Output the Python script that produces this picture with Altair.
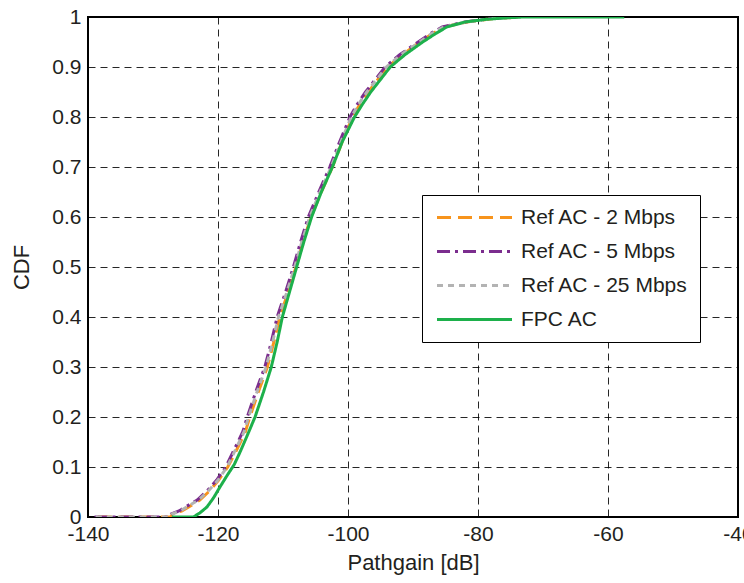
import altair as alt
import pandas as pd

series_names = ["Ref AC - 2 Mbps", "Ref AC - 5 Mbps", "Ref AC - 25 Mbps", "FPC AC"]
series_colors = ["#F7941D", "#7B2D8E", "#B3B3B3", "#1DB04B"]
series_dashes = [[14, 7], [13, 5, 3, 5], [6, 5], [1, 0]]

ref_cdf = [0, 0, 0.006, 0.012, 0.02, 0.034, 0.052, 0.074, 0.1, 0.135, 0.17, 0.2, 0.25,
           0.3, 0.35, 0.4, 0.45, 0.5, 0.55, 0.6, 0.65, 0.7, 0.75, 0.8, 0.825, 0.85,
           0.875, 0.9, 0.925, 0.95, 0.967, 0.98, 0.99, 0.997, 1.0]

ref2_gain = [-138.5, -127.3, -127.0, -125.6, -124.5, -122.8, -121.3, -119.9, -118.5, -117.1,
             -115.8, -115.1, -113.8, -112.4, -111.4, -110.5, -109.2, -108.0, -106.9, -105.7,
             -104.1, -102.4, -100.9, -99.3, -98.2, -96.9, -95.4, -93.9, -91.6, -88.9,
             -87.0, -85.2, -81.7, -77.6, -73.5]
ref5_gain = [-139.0, -127.5, -127.2, -126.0, -125.0, -123.2, -121.7, -120.2, -118.8, -117.5,
             -116.2, -115.5, -114.2, -112.8, -111.8, -110.9, -109.6, -108.4, -107.3, -106.1,
             -104.5, -102.8, -101.3, -99.7, -98.6, -97.3, -95.8, -94.3, -92.0, -89.2,
             -87.3, -85.5, -82.0, -78.0, -74.0]
ref25_gain = [-138.8, -127.4, -127.1, -125.8, -124.8, -123.0, -121.5, -120.0, -118.6, -117.3,
              -116.0, -115.3, -114.0, -112.6, -111.6, -110.7, -109.4, -108.2, -107.1, -105.9,
              -104.3, -102.6, -101.1, -99.5, -98.4, -97.1, -95.6, -94.1, -91.8, -89.0,
              -87.1, -85.3, -81.8, -77.8, -73.8]

fpc_gain = [-127.1, -123.8, -122.8, -121.7, -120.7, -119.7, -118.6, -117.5, -116.6, -115.6,
            -114.3, -113.0, -111.8, -110.9, -110.1, -109.0, -107.9, -106.8, -105.6, -104.1,
            -102.4, -100.9, -99.0, -97.8, -96.5, -95.0, -93.5, -91.2, -88.5, -86.5, -84.8,
            -82.0, -79.0, -76.0, -73.0, -66.0, -57.5]
fpc_cdf = [0, 0, 0.008, 0.02, 0.038, 0.06, 0.083, 0.105, 0.13, 0.16, 0.2, 0.25, 0.3, 0.35,
           0.4, 0.45, 0.5, 0.55, 0.6, 0.65, 0.7, 0.75, 0.8, 0.825, 0.85, 0.875, 0.9, 0.925,
           0.95, 0.967, 0.98, 0.99, 0.995, 0.998, 1.0, 1.0, 1.0]

x_ticks = [-140, -120, -100, -80, -60, -40]
y_ticks = [0, 0.1, 0.2, 0.3, 0.4, 0.5, 0.6, 0.7, 0.8, 0.9, 1]

rows = []
for name, gains, cdfs in [(series_names[0], ref2_gain, ref_cdf),
                          (series_names[1], ref5_gain, ref_cdf),
                          (series_names[2], ref25_gain, ref_cdf),
                          (series_names[3], fpc_gain, fpc_cdf)]:
    for i, (g, c) in enumerate(zip(gains, cdfs)):
        rows.append({"series": name, "gain": g, "cdf": c, "i": i})
df = pd.DataFrame(rows)

FONT = "Liberation Sans"
TXT = "#231F20"
FS = 21

x_enc = alt.X("gain:Q", scale=alt.Scale(domain=[-140, -40], nice=False),
              axis=alt.Axis(values=x_ticks, title="Pathgain [dB]", grid=True,
                            labelExpr="'' + datum.value",
                            labelFontSize=FS, titleFontSize=22, labelPadding=6,
                            titlePadding=8, ticks=False, domain=False, labelFlush=False))
y_enc = alt.Y("cdf:Q", scale=alt.Scale(domain=[0, 1], nice=False),
              axis=alt.Axis(values=y_ticks, title="CDF", grid=True, format="~g",
                            labelFontSize=FS, titleFontSize=22, labelPadding=7,
                            titlePadding=18, ticks=False, domain=False, labelFlush=False))

legend = alt.Legend(title=None, orient="none", legendX=334, legendY=178,
                    fillColor="white", strokeColor="black", padding=12,
                    symbolType="M-1,0L9,0", symbolSize=225, symbolStrokeWidth=3,
                    labelFontSize=FS, labelFont=FONT, labelColor=TXT, labelLimit=400,
                    rowPadding=12, labelOffset=66)
color_enc = alt.Color("series:N", scale=alt.Scale(domain=series_names, range=series_colors),
                      legend=legend)
dash_enc = alt.StrokeDash("series:N", scale=alt.Scale(domain=series_names, range=series_dashes),
                          legend=legend)

layers = []
for name in series_names:
    layers.append(
        alt.Chart(df).transform_filter(alt.datum.series == name)
        .mark_line(strokeWidth=3, clip=True)
        .encode(x=x_enc, y=y_enc, color=color_enc, strokeDash=dash_enc,
                order=alt.Order("i:Q"))
    )

chart = alt.layer(*layers).properties(
    width=650, height=500,
    autosize=alt.AutoSizeParams(type="none"),
    padding={"left": 88, "top": 17, "right": 6, "bottom": 66},
    background="white",
).configure_view(stroke="black", strokeWidth=2).configure_axis(
    gridColor="black", gridDash=[7, 5], gridWidth=1, gridOpacity=0.85,
    labelFont=FONT, titleFont=FONT, labelColor=TXT, titleColor=TXT,
    titleFontWeight="normal"
)

chart.save("out.html", embed_options={"renderer": "svg", "actions": False})
